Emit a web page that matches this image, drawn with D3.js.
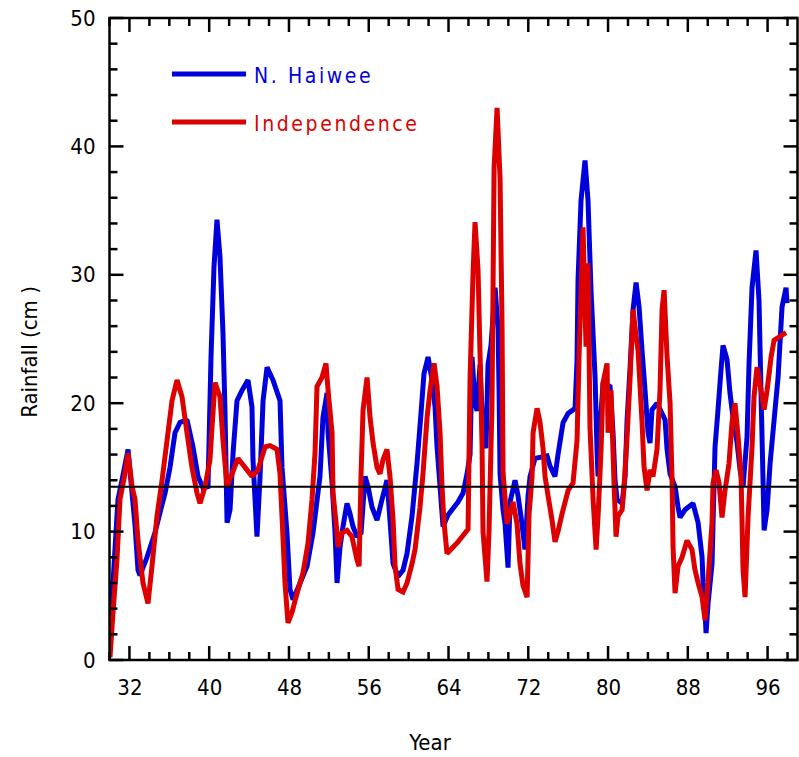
<!DOCTYPE html>
<html><head><meta charset="utf-8">
<script src="https://cdn.jsdelivr.net/npm/d3@7"></script>
<style>body{margin:0;background:#fff}svg{display:block}</style>
</head><body>
<script>
const haiweeYear=[30.05,30.35,30.85,31.25,31.86,32.26,32.56,32.86,33.06,33.76,34.56,35.07,35.57,36.07,36.57,37.07,37.77,38.37,38.88,39.38,39.88,40.18,40.48,40.78,41.08,41.38,41.58,41.79,42.09,42.39,42.79,43.29,43.89,44.29,44.39,44.79,45.10,45.40,45.80,46.40,47.10,47.30,47.80,48.10,48.40,49.11,49.81,50.41,51.11,51.41,51.82,51.92,52.32,52.62,52.82,53.12,53.42,53.82,54.12,54.42,54.82,55.23,55.63,55.93,56.33,56.83,57.33,57.83,58.13,58.44,58.94,59.44,59.84,60.34,60.84,61.24,61.54,61.95,62.35,62.65,62.85,63.15,63.45,63.95,64.45,64.95,65.46,65.86,66.16,66.36,66.66,66.86,67.16,67.46,67.76,67.96,68.26,68.67,68.97,69.07,69.17,69.47,69.67,69.97,70.17,70.67,70.97,71.37,71.67,71.98,72.18,72.68,73.88,74.18,74.68,74.98,75.49,75.99,76.69,76.89,76.99,77.29,77.69,77.99,78.29,78.70,78.90,79.00,79.20,79.50,80.20,80.50,80.70,80.90,81.41,81.71,81.91,82.21,82.51,82.81,83.11,83.41,83.71,84.01,84.21,84.41,84.91,85.42,85.72,85.92,86.22,86.72,87.02,87.22,87.72,88.52,89.03,89.43,89.53,89.73,89.83,90.03,90.43,90.53,90.73,91.03,91.33,91.53,91.93,92.23,92.53,92.94,93.24,93.54,93.94,94.14,94.44,94.84,95.14,95.35,95.55,95.65,95.95,96.25,96.75,97.05,97.45,97.85,97.95];
const haiweeRain=[3.5,6,12.5,14,16.4,13,10.5,7,6.6,8,9.9,11.5,13,15,17.7,18.5,18.7,16.6,14.3,13.4,13.5,23.6,30.6,34.3,31.4,25.5,19.5,10.7,11.7,16.1,20.2,21,21.8,19.7,15.6,9.6,14.3,20.2,22.8,21.8,20.2,15,9.9,5.5,4.7,6,7.3,9.9,14.3,18.9,20.8,17.7,13.8,9.9,6,8.8,10.4,12.2,11.4,10.4,9.6,9.9,14.3,13.5,11.9,10.9,12.5,14,10.9,7.5,6.5,7,8.3,11.2,15.3,19.2,22.3,23.6,21.8,19.7,16.6,13.5,10.4,11.3,11.8,12.3,13,14.5,16,23.6,20,19.4,23,17.5,16.5,23,24.5,29,25.8,21,14.5,11.7,10.6,7.2,12.3,14,12.8,10.6,8.6,12.8,14.3,15.7,15.9,15.1,14.3,16,18.5,19.2,19.6,23.4,29.6,35.8,38.9,35.8,28.8,22,16.1,14.3,18.1,21.6,21.3,17.7,14,12.5,12.2,14.3,18.7,22.8,27.3,29.4,27.5,24.1,21,17.7,16.9,19.5,20,19.2,18.7,16.4,14.5,13.5,11.9,11.1,11.7,12.2,10.7,8,6,3.7,2.1,4.4,7.5,10.7,16.6,19.5,22.6,24.5,23.4,20.8,18.9,16.9,14.8,13.5,17.4,23.1,29,31.9,28,20.5,13.8,10.1,11.7,15.3,19.5,22,27.5,29,27.8];
const indepYear=[30.05,30.35,30.75,31.05,31.55,31.86,32.26,32.56,32.86,33.36,33.86,34.26,34.76,35.27,35.77,36.27,36.77,37.27,37.77,38.27,38.78,39.08,39.58,40.08,40.28,40.58,41.08,41.38,41.79,42.29,42.89,43.59,44.29,44.89,45.60,46.10,46.80,47.10,47.30,47.60,47.90,48.30,48.81,49.41,49.91,50.31,50.61,50.81,51.31,51.71,51.92,52.32,52.42,52.82,52.92,53.32,53.82,54.32,54.82,55.03,55.23,55.43,55.83,56.13,56.43,56.83,57.13,57.43,57.83,58.13,58.44,58.64,58.94,59.44,59.84,60.34,60.64,61.14,61.44,61.85,62.15,62.55,62.85,63.15,63.35,63.55,63.85,64.35,64.95,65.46,65.96,66.16,66.46,66.66,66.96,67.16,67.36,67.46,67.86,68.06,68.36,68.47,68.57,68.87,69.17,69.37,69.47,69.87,70.17,70.47,70.87,71.17,71.47,71.88,72.08,72.38,72.48,72.88,73.18,73.48,73.68,73.98,74.38,74.68,74.98,75.39,75.69,75.99,76.49,76.89,77.09,77.49,77.79,77.99,78.19,78.50,78.80,79.00,79.30,79.50,79.90,80.00,80.30,80.60,80.80,81.00,81.41,81.61,81.91,82.21,82.51,82.81,83.01,83.41,83.61,83.91,84.21,84.51,84.91,85.21,85.42,85.62,85.92,86.22,86.42,86.52,86.72,87.02,87.42,87.92,88.42,88.72,89.03,89.43,89.73,90.03,90.43,90.53,90.83,91.13,91.43,91.73,92.13,92.43,92.73,93.04,93.34,93.54,93.74,94.04,94.44,94.64,94.94,95.35,95.65,95.95,96.35,96.65,97.25,97.85];
const indepRain=[0.2,3.7,7.8,12.5,14.5,16.1,13.5,12.5,9.3,6,4.4,7.3,11.2,14,17.1,20.2,21.8,20.5,17.7,15,13,12.2,13.5,15.6,18.1,21.6,20.5,17.1,13.5,14.5,15.7,15,14.3,14.8,16.6,16.7,16.4,14.5,11.2,6,2.9,3.7,5.2,6.8,9.1,12.5,16.1,21.3,22,23.1,21,17.7,13,9.9,8.8,9.9,10.1,9.6,7.8,7.3,14.5,19.5,22,18.9,16.9,15,14.5,15.6,16.4,14.3,10.9,7.3,5.5,5.3,6,7.5,8.6,11.9,14.5,18.9,21,23.1,21.3,17.7,13.5,10.7,8.3,8.7,9.2,9.7,10.2,21.9,30.1,34.1,30.4,23.9,16.8,10,6.1,10,19.9,29.3,38.3,43,37.5,25.9,14.6,10.6,11.4,12.3,10.6,7.5,5.8,4.9,11.4,14.3,17.7,19.6,18.5,16.5,14.3,12.8,10.9,9.2,10,11.4,12.3,13.2,13.8,17.1,23.6,33.7,24.4,30.9,18.1,12.5,8.6,11.2,16.4,21.6,23.1,17.7,21,13.8,9.6,11.2,11.7,13.5,17.4,22,27.3,25.2,24.1,18.5,15,13.2,14.8,14.3,16.4,21,27.3,28.8,23.6,20,14,8.8,5.2,7.3,8,9.3,8.6,7,6,4.9,3.1,6.2,10.7,13.8,14.8,13.8,11.1,13.2,15.3,18.5,20,17.4,14.3,7,4.9,11.1,16.6,20.5,22.8,21,19.5,21,23.6,24.9,25.2,25.5];
const meanRain=13.5;
const xTickLabels=[32,40,48,56,64,72,80,88,96];
const yTickLabels=[0,10,20,30,40,50];
const seriesNames=["N. Haiwee","Independence"];
const seriesColors=["#0000dd","#dd0000"];

const W=799,H=757;
const m={left:109.5,right:797.5,top:18,bottom:660};
const x=d3.scaleLinear().domain([30,99]).range([m.left,m.right]);
const y=d3.scaleLinear().domain([0,50]).range([m.bottom,m.top]);
const svg=d3.select("body").append("svg").attr("width",W).attr("height",H);
const font="'DejaVu Sans Condensed','DejaVu Sans', sans-serif";

svg.append("clipPath").attr("id","c").append("rect")
  .attr("x",m.left).attr("y",m.top).attr("width",m.right-m.left).attr("height",m.bottom-m.top);

const line=d3.line().x(d=>x(d[0])).y(d=>y(d[1]));
const series=[d3.zip(haiweeYear,haiweeRain),d3.zip(indepYear,indepRain)];
const g=svg.append("g").attr("clip-path","url(#c)");
series.forEach((s,i)=>{
  g.append("path").datum(s).attr("d",line).attr("fill","none")
   .attr("stroke",seriesColors[i]).attr("stroke-width",5)
   .attr("stroke-linejoin","miter").attr("stroke-miterlimit",1.5);
});
svg.append("line").attr("x1",m.left).attr("x2",m.right).attr("y1",y(meanRain)).attr("y2",y(meanRain))
  .attr("stroke","#000").attr("stroke-width",2);

const xMinor=d3.range(30,100,2), yMinor=d3.range(0,51,2);
const isMajX=v=>xTickLabels.includes(v), isMajY=v=>yTickLabels.includes(v);
[["b",m.bottom],["t",m.top]].forEach(([k,py])=>{
  const a=svg.append("g");
  xMinor.forEach(v=>{const L=isMajX(v)?14:8;const px=x(v);
    a.append("line").attr("x1",px).attr("x2",px).attr("y1",py).attr("y2",k=="b"?py-L:py+L)
     .attr("stroke","#000").attr("stroke-width",2.5);});
});
[["l",m.left],["r",m.right]].forEach(([k,px])=>{
  const a=svg.append("g");
  yMinor.forEach(v=>{const L=isMajY(v)?14:8;const py=y(v);
    a.append("line").attr("y1",py).attr("y2",py).attr("x1",px).attr("x2",k=="l"?px+L:px-L)
     .attr("stroke","#000").attr("stroke-width",2.5);});
});
const xa=svg.append("g").attr("transform",`translate(0,${m.bottom})`)
  .call(d3.axisBottom(x).tickValues(xTickLabels).tickSize(0).tickPadding(19));
xa.select(".domain").remove();
xa.selectAll("text").attr("font-family",font).attr("font-size",22).attr("fill","#000");
const ya=svg.append("g").attr("transform",`translate(${m.left},0)`)
  .call(d3.axisLeft(y).tickValues(yTickLabels).tickSize(0).tickPadding(14));
ya.select(".domain").remove();
ya.selectAll("text").attr("font-family",font).attr("font-size",22).attr("fill","#000");

svg.append("rect").attr("x",m.left).attr("y",m.top).attr("width",m.right-m.left).attr("height",m.bottom-m.top)
  .attr("fill","none").attr("stroke","#000").attr("stroke-width",2.5);

svg.append("text").attr("x",430).attr("y",750).attr("text-anchor","middle")
  .attr("font-family",font).attr("font-size",22).text("Year");
svg.append("text").attr("transform","translate(37,352) rotate(-90)").attr("text-anchor","middle")
  .attr("font-family",font).attr("font-size",22).text("Rainfall (cm )");

seriesNames.forEach((n,i)=>{
  const ly=74+i*48;
  svg.append("line").attr("x1",172).attr("x2",246).attr("y1",ly).attr("y2",ly)
    .attr("stroke",seriesColors[i]).attr("stroke-width",5);
  svg.append("text").attr("x",254).attr("y",ly+9).attr("font-family",font).attr("font-size",21)
    .attr("letter-spacing",2.6).attr("fill",seriesColors[i]).text(n);
});
</script>
</body></html>
